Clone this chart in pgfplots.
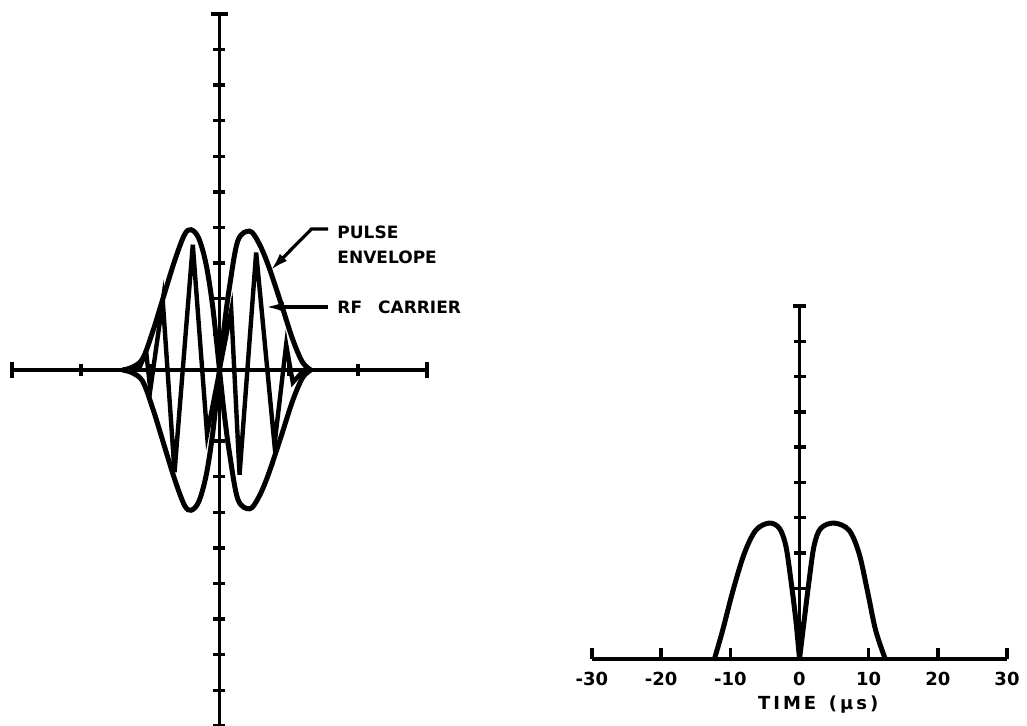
\documentclass[border=0pt]{standalone}
\usepackage{fontspec}
\setmainfont{DejaVu Sans}
\usepackage{pgfplots}
\pgfplotsset{compat=1.18}
\usetikzlibrary{arrows.meta}
\tikzset{lbl/.style={anchor=west, inner sep=0pt, font=\fontsize{8.5}{10}\selectfont\bfseries}}
\begin{document}
\begin{tikzpicture}
\useasboundingbox (0,0) rectangle (513.5pt,363pt);
\pgfplotsset{
  base/.style={
    scale only axis, axis lines=middle, enlargelimits=false, clip=false,
    axis line style={line width=1.9pt, -},
    every tick/.style={black, line width=1.7pt},
    xlabel={}, ylabel={},
  },
  env/.style={black, line width=2.5pt, smooth, tension=0.55, no markers},
  car/.style={black, line width=2.2pt, no markers, line join=miter},
  tk/.style={black, only marks, mark options={line width=1.7pt, solid}},
}
% ---------------- left: pulse with RF carrier
\begin{axis}[base,
  at={(6pt,0pt)}, anchor=south west, width=207.5pt, height=356pt,
  xmin=-30, xmax=30, ymin=-10, ymax=10,
  xtick=\empty, ytick=\empty]
  % tick marks (centred on the axes)
  \addplot[tk, mark=|, mark size=3pt] coordinates {(-20,0) (-10,0) (10,0) (20,0)};
  \addplot[tk, mark=|, mark size=4.2pt] coordinates {(-30,0) (30,0)};
  \addplot[tk, mark=-, mark size=3pt] coordinates {(0,-10) (0,-9) (0,-8) (0,-7) (0,-6) (0,-5) (0,-4) (0,-3) (0,-2) (0,-1) (0,1) (0,2) (0,3) (0,4) (0,5) (0,6) (0,7) (0,8) (0,9)};
  \addplot[tk, mark=-, mark size=4.2pt] coordinates {(0,10)};
  % pulse envelope (upper, left hump)
  \addplot[env] coordinates {(-14.0,0) (-12.6,0.08) (-11.1,0.32) (-9.6,1.11) (-8.2,1.99) (-6.5,3.06) (-5.06,3.8) (-4.1,3.94) (-3.0,3.7) (-1.93,2.96) (-0.97,1.76) (0,0)};
  \addplot[env] coordinates {(0,0) (0.7,1.25) (1.45,2.34) (2.65,3.63) (4.34,3.9) (5.6,3.6) (6.98,2.98) (8.9,1.87) (10.6,0.85) (12.0,0.22) (13.2,0)};
  % pulse envelope (lower)
  \addplot[env] coordinates {(-14.0,0) (-12.6,-0.08) (-11.1,-0.32) (-9.6,-1.11) (-8.2,-1.99) (-6.5,-3.06) (-5.06,-3.8) (-4.1,-3.94) (-3.0,-3.7) (-1.93,-2.96) (-0.97,-1.76) (0,0)};
  \addplot[env] coordinates {(0,0) (0.7,-1.25) (1.45,-2.34) (2.65,-3.63) (4.34,-3.9) (5.6,-3.6) (6.98,-2.98) (8.9,-1.87) (10.6,-0.85) (12.0,-0.22) (13.2,0)};
  % RF carrier
  \addplot[car] coordinates {(-14,0) (-11.6,0.05) (-10.6,0.5) (-10.0,-0.55) (-8.2,1.94) (-6.5,-2.87) (-3.86,3.52) (-1.8,-1.8) (1.7,1.68) (2.9,-2.94) (5.3,3.3) (7.95,-2.1) (9.64,0.71) (10.6,-0.35) (12.2,0) (13,0)};
  % annotations
  \draw[line width=1.6pt, -{Latex[length=9pt,width=5pt]}] (axis cs:15.7,3.96) -- (axis cs:13.3,3.96) -- (axis cs:7.4,2.8);
  \draw[line width=1.6pt, -{Latex[length=9pt,width=5pt]}] (axis cs:15.7,1.77) -- (axis cs:6.7,1.77);
  \node[lbl] at (axis cs:17.0,3.88) {PULSE};
  \node[lbl] at (axis cs:17.0,3.17) {ENVELOPE};
  \node[lbl] at (axis cs:17.0,1.77) {RF\hspace{8pt}CARRIER};
\end{axis}
% ---------------- right: detected pulse
\begin{axis}[base,
  tick align=inside, major tick length=5.5pt,
  at={(296pt,33.5pt)}, anchor=south west, width=207.5pt, height=176.5pt,
  xmin=-30, xmax=30, ymin=0, ymax=10,
  xtick={-30,-20,...,30}, ytick=\empty,
  xticklabels={-30,-20,-10,0,10,20,30},
  hide obscured x ticks=false,
  xticklabel style={font=\fontsize{9}{10}\selectfont\bfseries, anchor=center, yshift=-10pt}]
  \addplot[tk, mark=-, mark size=3pt] coordinates {(0,1) (0,2) (0,3) (0,4) (0,5) (0,6) (0,7) (0,8) (0,9)};
  \addplot[tk, mark=-, mark size=3.2pt] coordinates {(0,10)};
  \addplot[env] coordinates {(-12.3,0) (-11.1,0.82) (-9.6,1.95) (-7.96,3.0) (-6.3,3.65) (-4.36,3.85) (-2.9,3.7) (-1.97,3.2) (-1.25,2.24) (-0.53,1.1) (0,0)};
  \addplot[env] coordinates {(0,0) (0.68,1.1) (1.4,2.24) (2.1,3.2) (3.07,3.7) (5.0,3.85) (7.15,3.65) (8.6,3.0) (9.8,1.95) (11.0,0.82) (12.4,0)};
  \node[font=\fontsize{9}{10}\selectfont\bfseries] at (axis cs:2.7,-1.3) {T\,I\,M\,E\ \ (\,μ\,s\,)};
\end{axis}
\end{tikzpicture}
\end{document}
